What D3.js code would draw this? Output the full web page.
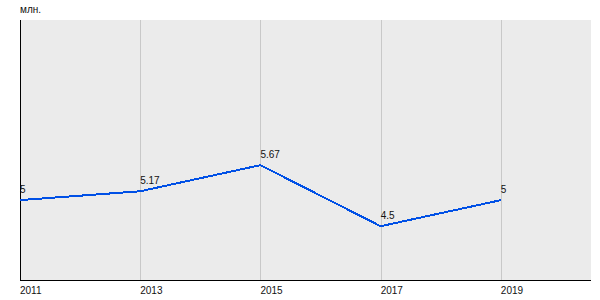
<!DOCTYPE html>
<html>
<head>
<meta charset="utf-8">
<script src="https://cdn.jsdelivr.net/npm/d3@7"></script>
<style>
  body { margin: 0; background: #fff; }
  text { font-family: Arial, "Liberation Sans", sans-serif; font-size: 10px; fill: #111; }
</style>
</head>
<body>
<div id="chart"></div>
<script>
// data
const years = [2011, 2013, 2015, 2017, 2019];
const values = [5, 5.17, 5.67, 4.5, 5];
const valueLabels = ["5", "5.17", "5.67", "4.5", "5"];
const unitLabel = "млн.";

const margin = {top: 20, right: 9, bottom: 20, left: 20};
const width = 600 - margin.left - margin.right;
const height = 300 - margin.top - margin.bottom;

const svg = d3.select("#chart").append("svg")
    .attr("width", 600)
    .attr("height", 300);

const g = svg.append("g")
    .attr("transform", "translate(" + margin.left + "," + margin.top + ")");

const x = d3.scaleLinear().domain([2011, 2020.5]).range([0, width]);
const y = d3.scaleLinear().domain([3.47, 8.45]).range([height, 0]);

// background
g.append("rect")
    .attr("width", width)
    .attr("height", height)
    .attr("fill", "#ebebeb");

// vertical grid lines
g.selectAll(".grid")
    .data(years)
    .enter().append("line")
    .attr("x1", d => Math.round(x(d)) + 0.5)
    .attr("x2", d => Math.round(x(d)) + 0.5)
    .attr("y1", 0)
    .attr("y2", height)
    .attr("stroke", "#c8c8c8");

// axes lines
g.append("line")
    .attr("x1", 0.5).attr("x2", 0.5)
    .attr("y1", 0).attr("y2", height)
    .attr("stroke", "#000");
g.append("line")
    .attr("x1", 0).attr("x2", width)
    .attr("y1", height + 0.5).attr("y2", height + 0.5)
    .attr("stroke", "#000");

// x tick labels
g.selectAll(".tick-label")
    .data(years)
    .enter().append("text")
    .attr("x", d => x(d))
    .attr("y", height + 14)
    .text(d => d);

// unit label
svg.append("text")
    .attr("x", margin.left)
    .attr("y", 13)
    .text(unitLabel);

// line
const line = d3.line()
    .x((d, i) => x(years[i]))
    .y(d => y(d));

g.append("path")
    .datum(values)
    .attr("d", line)
    .attr("fill", "none")
    .attr("stroke", "#0050e6")
    .attr("stroke-width", 2)
    .style("shape-rendering", "crispEdges");

// value labels
g.selectAll(".val")
    .data(values)
    .enter().append("text")
    .attr("x", (d, i) => x(years[i]))
    .attr("y", d => y(d) - 7)
    .text((d, i) => valueLabels[i]);
</script>
</body>
</html>
